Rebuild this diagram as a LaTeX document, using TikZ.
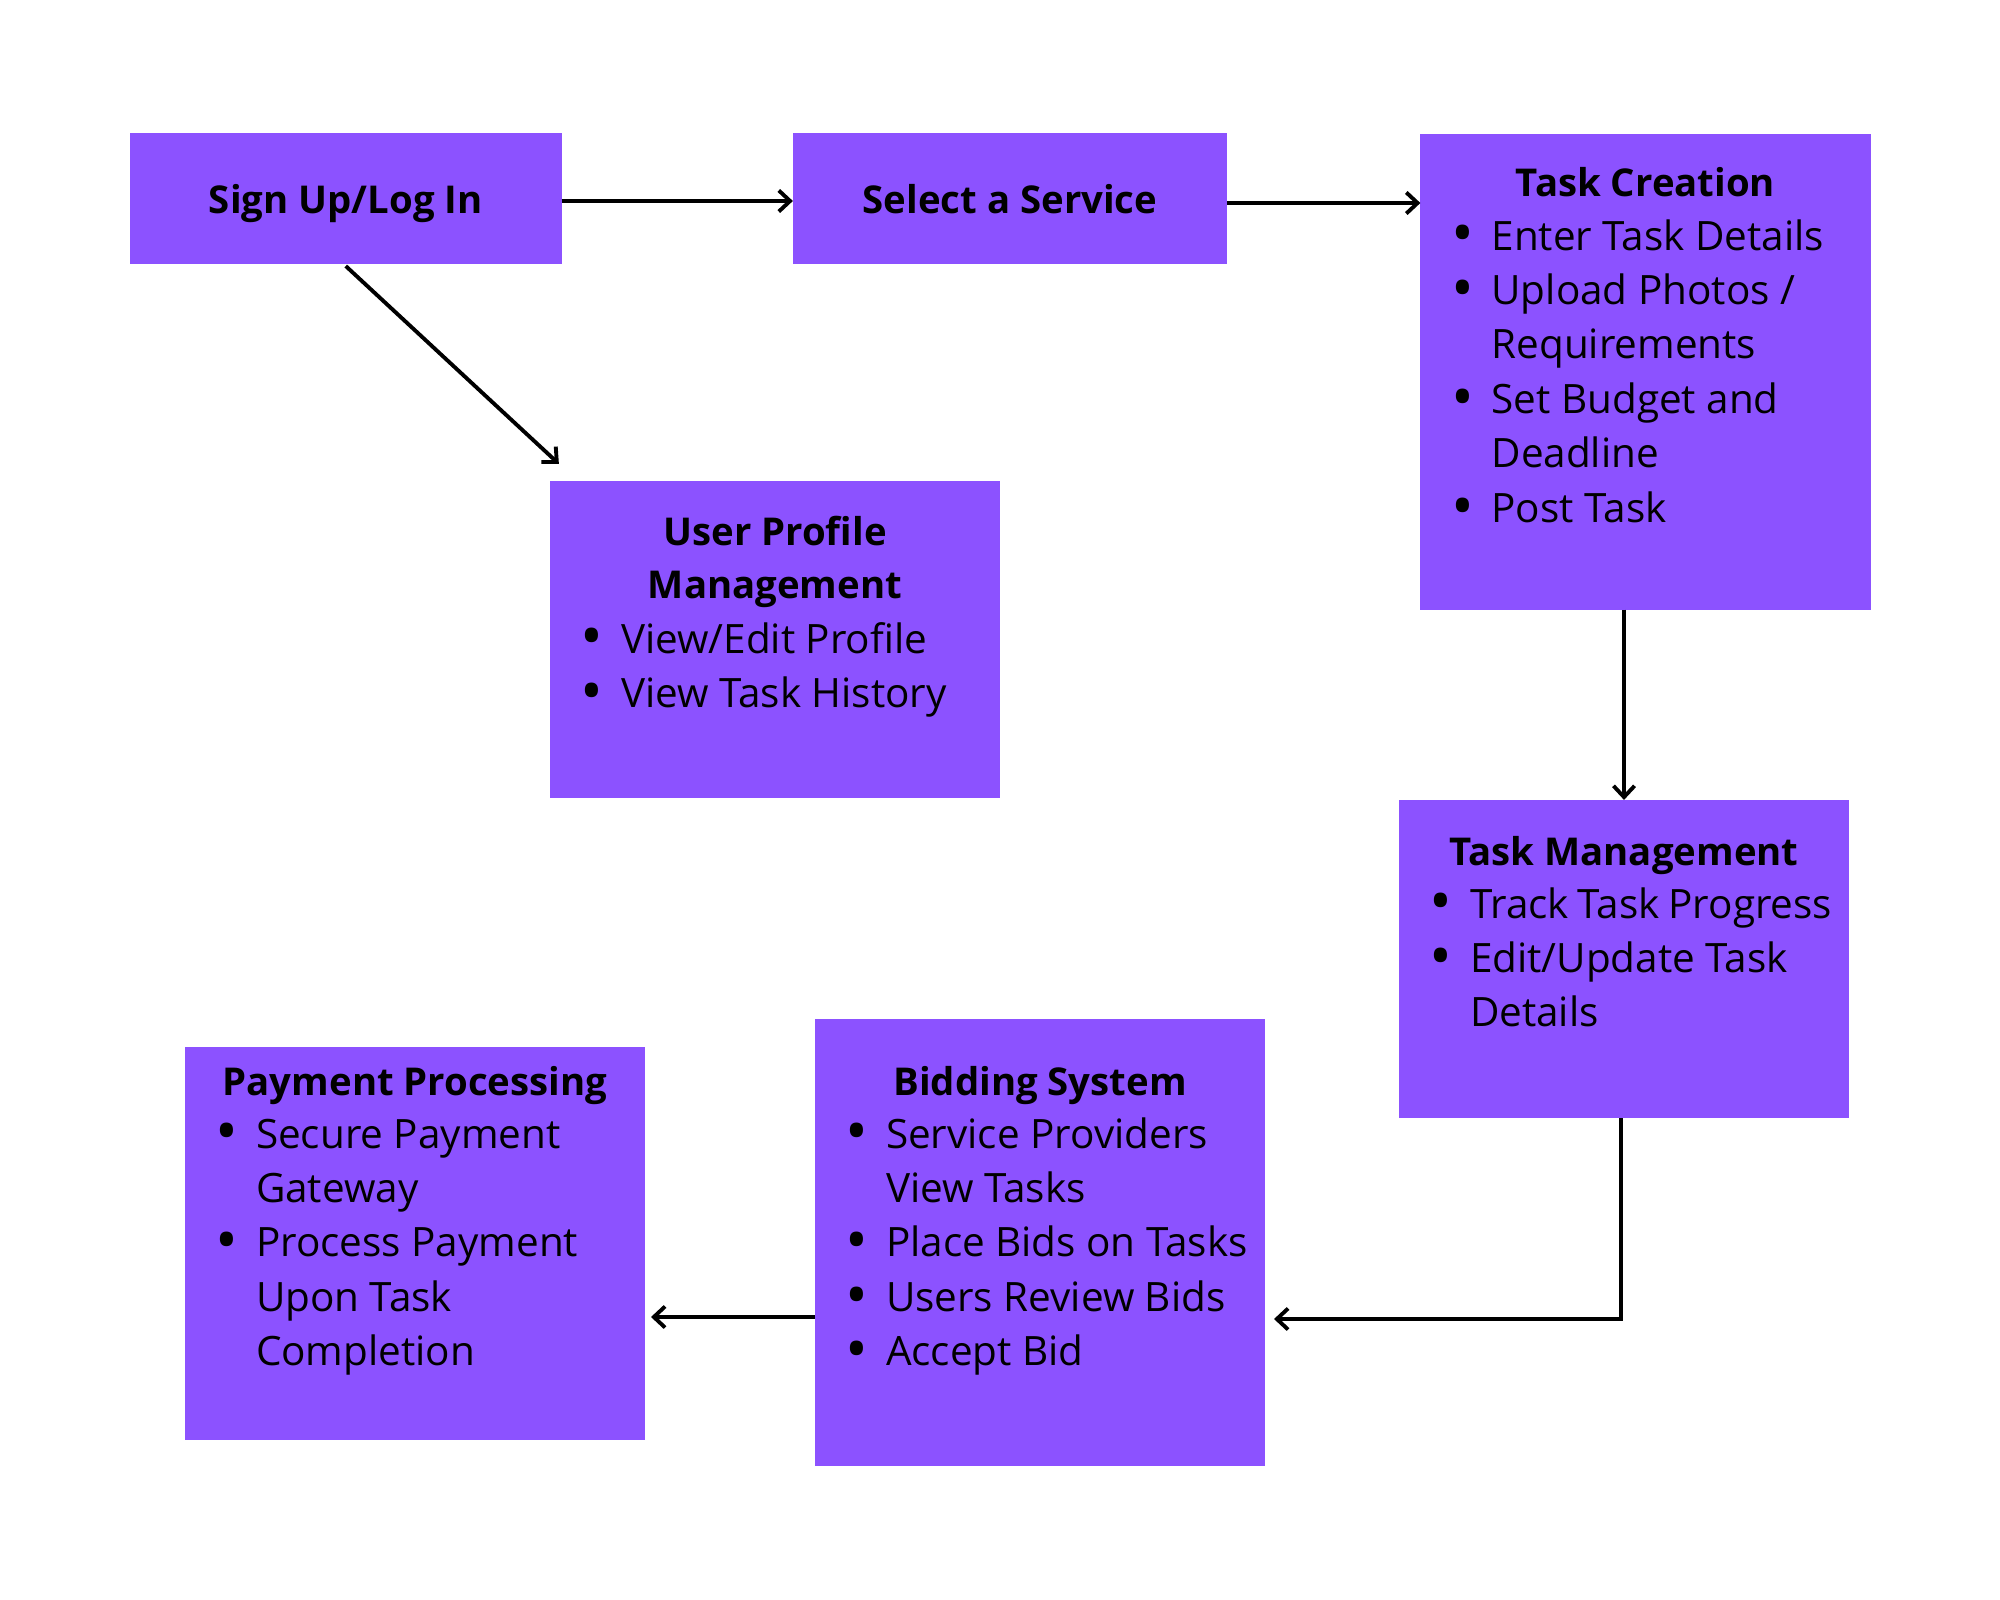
\documentclass[tikz,border=0pt]{standalone}
\usepackage{fontspec}
\usepackage{graphicx}
\setmainfont{Open Sans}
\usetikzlibrary{arrows.meta}
\definecolor{boxpurple}{HTML}{8C52FF}
\newcommand\regfont{\fontsize{11.5pt}{15.48pt}\selectfont}
\newcommand\titfont{\fontsize{10.9pt}{15.48pt}\selectfont\bfseries}
\newcommand\bdot{\raisebox{-0.12em}[0.5em][0pt]{\scalebox{1.5}{\textbullet}}}
\newcommand\bitem[1]{\noindent\makebox[0.58cm][c]{\bdot}#1\par}
\newcommand\citem[1]{\noindent\hspace*{0.58cm}#1\par}
\newcommand\lstbox[1]{\parbox[t]{4.2cm}{\regfont #1}}
\tikzset{
  box/.style={fill=boxpurple, draw=none, inner sep=0pt, outer sep=0pt},
  ttl/.style={anchor=base, inner sep=0pt, outer sep=0pt, font=\titfont},
  lst/.style={anchor=base west, inner sep=0pt, outer sep=0pt},
  arr/.style={-{Straight Barb[length=3.2pt,width=6pt]}, line width=1.1pt, black},
}
\begin{document}
\begin{tikzpicture}[x=0.01cm,y=-0.01cm]
\fill[white] (0,0) rectangle (2000,1600);
\useasboundingbox (0,0) rectangle (2000,1600);

% boxes
\node[box, minimum width=4.315cm, minimum height=1.31cm] (su) at (345.75,198.5) {};
\node[box, minimum width=4.34cm, minimum height=1.31cm] (sel) at (1010,198.5) {};
\node[box, minimum width=4.5cm, minimum height=4.758cm] (tc) at (1645.5,371.6) {};
\node[box, minimum width=4.5cm, minimum height=3.17cm] (upm) at (775,639.5) {};
\node[box, minimum width=4.5cm, minimum height=3.18cm] (tm) at (1624,959) {};
\node[box, minimum width=4.5cm, minimum height=4.47cm] (bid) at (1040,1242.5) {};
\node[box, minimum width=4.6cm, minimum height=3.93cm] (pay) at (415,1243.5) {};

% titles
\node[ttl] (sut) at (345.75,213) {Sign Up/Log In};
\node[ttl] (selt) at (1010,213) {Select a Service};
\node[ttl] (tct) at (1645.5,196.7) {Task Creation};
\node[ttl] (upmt1) at (775,545) {User Profile};
\node[ttl] (upmt2) at (775,598) {Management};
\node[ttl] (tmt) at (1624,865) {Task Management};
\node[ttl] (bidt) at (1040,1095) {Bidding System};
\node[ttl] (payt) at (415,1095) {Payment Processing};

% lists
\node[lst] (tcl) at (1433.5,250) {\lstbox{\bitem{Enter Task Details}\bitem{Upload Photos /}\citem{Requirements}\bitem{Set Budget and}\citem{Deadline}\bitem{Post Task}}};
\node[lst] (upml) at (563,653) {\lstbox{\bitem{View/Edit Profile}\bitem{View Task History}}};
\node[lst] (tml) at (1412,918) {\lstbox{\bitem{Track Task Progress}\bitem{Edit/Update Task}\citem{Details}}};
\node[lst] (bidl) at (828,1148) {\lstbox{\bitem{Service Providers}\citem{View Tasks}\bitem{Place Bids on Tasks}\bitem{Users Review Bids}\bitem{Accept Bid}}};
\node[lst] (payl) at (198,1148) {\lstbox{\bitem{Secure Payment}\citem{Gateway}\bitem{Process Payment}\citem{Upon Task}\citem{Completion}}};

% connectors
\coordinate (a1) at ([yshift=-0.025cm]su.east);
\draw[arr] (a1) -- (a1 -| sel.west);
\coordinate (a2) at ([yshift=-0.045cm]sel.east);
\draw[arr] (a2) -- (a2 -| tc.west);
\draw[arr] ([yshift=-0.02cm]su.south) -- ([xshift=0.09cm,yshift=0.17cm]upm.north west);
\draw[arr] (tc.south -| tm.north) -- (tm.north);
\coordinate (s5) at ([xshift=-0.03cm]tm.south);
\coordinate (t5) at (1274,1319);
\draw[arr] (s5) |- (t5);
\coordinate (t6) at (651,1317);
\draw[arr] (bid.west |- t6) -- (t6);
\end{tikzpicture}
\end{document}
